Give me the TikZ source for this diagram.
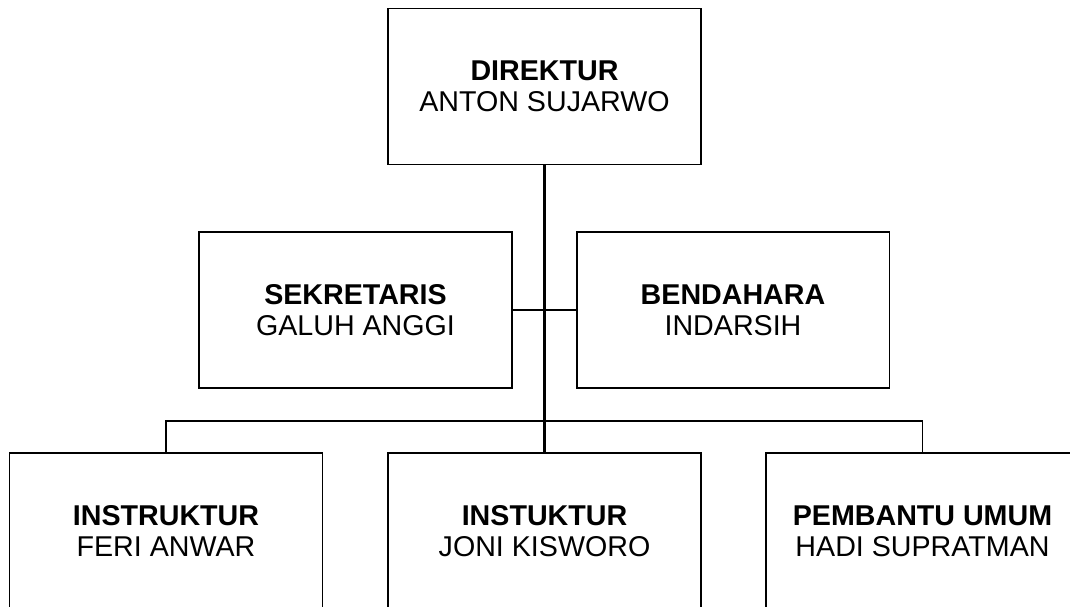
\documentclass[tikz,border=0pt]{standalone}
\usepackage{fontspec}
\setmainfont{Liberation Sans}
\usepackage{tikz}

\begin{document}
\begin{tikzpicture}[x=0.02cm, y=-0.02cm,
	jabatan/.style={draw, line width=1.1pt, rectangle, inner sep=0pt,
		minimum width=6.26cm, minimum height=3.12cm, align=center,
		font=\fontsize{16.3}{17.5}\selectfont},
	garis/.style={line width=1.1pt}]
	 		% Page frame
	 		\useasboundingbox (0,0) rectangle (1070,607);
	 		\clip (0,0) rectangle (1070,607);
	 		% Top level
	 		\node[jabatan] (dir) at (544.5, 86.5) {\textbf{DIREKTUR}\\ANTON SUJARWO};
	 		% Staff level
	 		\node[jabatan] (sek) at (355.5, 310) {\textbf{SEKRETARIS}\\GALUH ANGGI};
	 		\node[jabatan] (ben) at (733, 310) {\textbf{BENDAHARA}\\INDARSIH};
	 		% Bottom level
	 		\node[jabatan] (ins1) at (166, 531) {\textbf{INSTRUKTUR}\\FERI ANWAR};
	 		\node[jabatan] (ins2) at (544.5, 531) {\textbf{INSTUKTUR}\\JONI KISWORO};
	 		\node[jabatan] (pu) at (922.5, 531) {\textbf{PEMBANTU UMUM}\\HADI SUPRATMAN};
	 		\coordinate (bus) at (544.5, 421);
	 		% Lines
	 		\draw[line width=1.4pt] (dir.south) -- (ins2.north);
	 		\draw[garis] (sek.east) -- (ben.west);
	 		\draw[garis] (ins1.north) |- (bus) -| (pu.north);
	 	\end{tikzpicture}
\end{document}
